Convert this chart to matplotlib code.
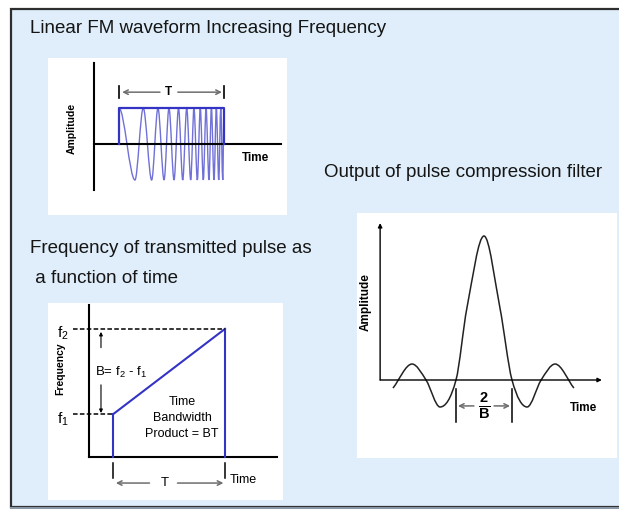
import matplotlib
matplotlib.use('Agg')
import matplotlib.pyplot as plt
from matplotlib.patches import Rectangle, PathPatch
from matplotlib.path import Path

plt.rcParams['font.family'] = ['Liberation Sans', 'DejaVu Sans']
plt.rcParams['mathtext.fontset'] = 'custom'
plt.rcParams['mathtext.rm'] = 'Liberation Sans'
plt.rcParams['mathtext.bf'] = 'Liberation Sans:bold'

# top sketch: extrema of the linear FM pulse (t in units of T)
chirp_t = [0.0, 0.152, 0.231, 0.311, 0.371, 0.429, 0.476, 0.524, 0.567,
           0.607, 0.645, 0.683, 0.714, 0.746, 0.774, 0.803, 0.829, 0.857,
           0.880, 0.905, 0.927, 0.950, 0.969, 0.988, 1.0]
chirp_amp = [1, -1, 1, -1, 1, -1, 1, -1, 1, -1, 1, -1, 1,
             -1, 1, -1, 1, -1, 1, -1, 1, -1, 1, -1, 1]

# frequency sweep: pulse start / end and f1 / f2
sweep_t = [0.214, 1.214]
sweep_f = [1.0, 3.0]

# compressed pulse, t in units of 1/B
sinc_t = [-3.25, -2.57, -2.07, -1.57, -1.0, -0.61, 0.0, 0.57, 1.0, 1.54,
          2.04, 2.54, 3.21]
sinc_amp = [-0.056, 0.111, 0.0, -0.1875, 0.0, 0.5, 1.0, 0.5, 0.0, -0.1875,
            0.0, 0.111, -0.056]

W, H = 619, 509
PANEL = '#dfeefa'
BLUE = '#3434c4'
GREY = '#6e6e6e'


def smooth_path(xs, ys, flat_ends=False):
    # hermite curve through the read points, drawn as bezier segments
    n = len(xs)
    slopes = []
    for i in range(n):
        if i == 0:
            m = 0.0 if flat_ends else (ys[1] - ys[0]) / (xs[1] - xs[0])
        elif i == n - 1:
            m = 0.0 if flat_ends else (ys[-1] - ys[-2]) / (xs[-1] - xs[-2])
        elif (ys[i] - ys[i - 1]) * (ys[i + 1] - ys[i]) < 0:
            m = 0.0
        else:
            m = (ys[i + 1] - ys[i - 1]) / (xs[i + 1] - xs[i - 1])
        slopes.append(m)
    verts = [(xs[0], ys[0])]
    codes = [Path.MOVETO]
    for i in range(n - 1):
        h = (xs[i + 1] - xs[i]) / 3
        verts += [(xs[i] + h, ys[i] + slopes[i] * h),
                  (xs[i + 1] - h, ys[i + 1] - slopes[i + 1] * h),
                  (xs[i + 1], ys[i + 1])]
        codes += [Path.CURVE4] * 3
    return Path(verts, codes)


def inset(box, x0px, xscale, y0px, yscale):
    # box in pixels (left, top, right, bottom); data = (px - origin) / scale
    l, t, r, b = box
    ax = fig.add_axes([l / W, 1 - b / H, (r - l) / W, (b - t) / H])
    ax.set_xlim((l - x0px) / xscale, (r - x0px) / xscale)
    ax.set_ylim((y0px - b) / yscale, (y0px - t) / yscale)
    ax.set_facecolor('white')
    ax.set_xticks([])
    ax.set_yticks([])
    for s in ax.spines.values():
        s.set_visible(False)
    return ax


def arrow(ax, start, end, color=GREY, lw=1.1, style='->', scale=8):
    ax.annotate('', xy=end, xytext=start,
                arrowprops=dict(arrowstyle=style, color=color, lw=lw,
                                mutation_scale=scale, shrinkA=0, shrinkB=0))


fig = plt.figure(figsize=(W / 100, H / 100), dpi=100)
ax0 = fig.add_axes([0, 0, 1, 1])
ax0.set_xlim(0, W)
ax0.set_ylim(H, 0)
ax0.axis('off')
ax0.add_patch(Rectangle((11, 9), 620, 498, facecolor=PANEL,
                        edgecolor='#2e2e2e', lw=1.6))
ax0.plot([11, W], [507.5, 507.5], color='#8a96a3', lw=1.5)

tfont = dict(fontsize=13.5, color='#151515', va='baseline')
ax0.text(30, 33, 'Linear FM waveform Increasing Frequency', **tfont)
ax0.text(30, 253, 'Frequency of transmitted pulse as', **tfont)
ax0.text(30, 283, ' a function of time', **tfont)
ax0.text(324, 177, 'Output of pulse compression filter', **tfont)

# --- linear FM waveform ---
ax1 = inset((48, 58, 287, 215), 119, 105, 144, 36)
ax1.plot([-0.238, -0.238], [-1.28, 2.25], color='k', lw=1.5)
ax1.plot([-0.238, 1.543], [0, 0], color='k', lw=1.5)
ax1.add_patch(PathPatch(smooth_path(chirp_t, chirp_amp, flat_ends=True),
                        fill=False, edgecolor='#7070d8', lw=1.0))
ax1.plot([chirp_t[0], chirp_t[0], chirp_t[-1], chirp_t[-1]], [0, 1, 1, 0],
         color=BLUE, lw=1.6)
for tt in (chirp_t[0], chirp_t[-1]):
    ax1.plot([tt, tt], [1.28, 1.62], color='k', lw=1.2)
arrow(ax1, (0.39, 1.44), (0.03, 1.44))
arrow(ax1, (0.56, 1.44), (0.98, 1.44))
ax1.text(0.475, 1.44, 'T', fontsize=8.5, fontweight='bold', ha='center',
         va='center')
ax1.text(1.3, -0.39, 'Time', fontsize=8.5, fontweight='bold', ha='center',
         va='center')
ax1.text(-0.448, 0.44, 'Amplitude', fontsize=7.5, fontweight='bold',
         rotation=90, ha='center', va='center')

# --- frequency vs time ---
ax2 = inset((48, 303, 283, 500), 89, 112, 457, 42.7)
ax2.plot([0, 0], [0, 3.56], color='k', lw=1.5)
ax2.plot([0, 1.68], [0, 0], color='k', lw=1.5)
ax2.plot(sweep_t, sweep_f, color=BLUE, lw=1.5)
for tt, ff in zip(sweep_t, sweep_f):
    ax2.plot([tt, tt], [0, ff], color=BLUE, lw=1.5)
    ax2.plot([-0.143, tt], [ff, ff], color='k', lw=1.1, dashes=(3, 1.5))
    ax2.plot([tt, tt], [-0.14, -0.49], color='k', lw=1.1)
ax2.text(-0.235, sweep_f[1] - 0.1, 'f$_2$', fontsize=11, ha='center',
         va='center')
ax2.text(-0.235, sweep_f[0] - 0.12, 'f$_1$', fontsize=11, ha='center',
         va='center')
arrow(ax2, (0.107, 2.56), (0.107, 2.93), color='k', lw=0.8, style='-|>',
      scale=5)
arrow(ax2, (0.107, 1.69), (0.107, 1.03), color='k', lw=0.8, style='-|>',
      scale=5)
ax2.text(0.054, 1.99, 'B= f$_2$ - f$_1$', fontsize=9.5, ha='left',
         va='center')
ax2.text(0.83, 0.91, 'Time\nBandwidth\nProduct = BT', fontsize=9,
         ha='center', va='center', linespacing=1.45)
arrow(ax2, (0.54, -0.61), (0.24, -0.61))
arrow(ax2, (0.79, -0.61), (1.2, -0.61))
ax2.text(0.68, -0.61, 'T', fontsize=9.5, ha='center', va='center')
ax2.text(1.26, -0.54, 'Time', fontsize=9, ha='left', va='center')
ax2.text(-0.26, 2.06, 'Frequency', fontsize=7.5, fontweight='bold',
         rotation=90, ha='center', va='center')

# --- compressed pulse ---
ax3 = inset((357, 213, 617, 458), 484, 28, 380, 144)
arrow(ax3, (-3.71, 0), (-3.71, 1.09), color='k', lw=1.0, style='-|>',
      scale=6)
arrow(ax3, (-3.71, 0), (4.21, 0), color='k', lw=1.0, style='-|>', scale=6)
ax3.add_patch(PathPatch(smooth_path(sinc_t, sinc_amp), fill=False,
                        edgecolor='#222222', lw=1.1))
for tt in (sinc_t[4], sinc_t[8]):
    ax3.plot([tt, tt], [-0.06, -0.29], color='k', lw=1.1)
arrow(ax3, (-0.36, -0.18), (-0.93, -0.18))
arrow(ax3, (0.36, -0.18), (0.93, -0.18))
ax3.text(0, -0.18, r'$\mathbf{\frac{2}{B}}$', fontsize=15, ha='center',
         va='center')
ax3.text(3.54, -0.194, 'Time', fontsize=8.5, fontweight='bold',
         ha='center', va='center')
ax3.text(-4.21, 0.54, 'Amplitude', fontsize=8.5, fontweight='bold',
         rotation=90, ha='center', va='center')

fig.savefig('out.png', dpi=100)
